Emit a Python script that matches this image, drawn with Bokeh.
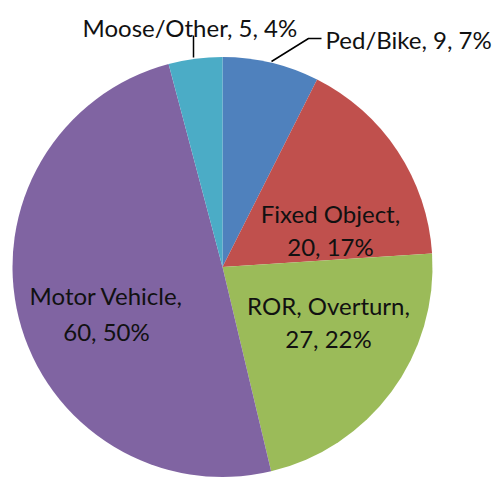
import numpy as np
from bokeh.plotting import figure
from bokeh.models import Range1d, ColumnDataSource
from bokeh.core.properties import value
from bokeh.embed import file_html
from bokeh.resources import INLINE

categories = ["Ped/Bike", "Fixed Object", "ROR, Overturn", "Motor Vehicle", "Moose/Other"]
counts = [9, 20, 27, 60, 5]
percents = ["7%", "17%", "22%", "50%", "4%"]
colors = ["#4F81BD", "#C0504D", "#9BBB59", "#8064A2", "#4BACC6"]

W, H = 496, 478
p = figure(width=W, height=H, output_backend="svg", toolbar_location=None,
           x_range=Range1d(0, W), y_range=Range1d(-H, 0),
           min_border=0)
p.axis.visible = False
p.grid.visible = False
p.outline_line_color = None
p.background_fill_color = "white"

cx, cy, r = 222, -266.5, 210
vals = np.array(counts, dtype=float)
frac = vals / vals.sum()
cum = np.concatenate([[0], np.cumsum(frac)])
start = np.pi / 2 - cum[:-1] * 2 * np.pi
end = np.pi / 2 - cum[1:] * 2 * np.pi
src = ColumnDataSource(dict(start=start, end=end, color=colors))
p.wedge(x=cx, y=cy, radius=r, start_angle="start", end_angle="end",
        direction="clock", fill_color="color", line_color=None, source=src)

font = value("Lato")
fs = "24px"

def label(lines, x, y0, gap=33, align="center"):
    for i, t in enumerate(lines):
        p.text(x=[x], y=[-(y0 + i * gap)], text=[t], text_font=font,
               text_font_size=fs, text_align=align, text_baseline="alphabetic",
               text_color="#111111")

lab = [f"{c}, {n}, {pc}" for c, n, pc in zip(categories, counts, percents)]
# outside labels
label([lab[4]], 82, 27, align="left")
label([lab[0]], 325, 39, align="left")
# inside labels
label([categories[1] + ",", f"{counts[1]}, {percents[1]}"], 330, 213)
label([categories[2] + ",", f"{counts[2]}, {percents[2]}"], 328, 305)
label([categories[3] + ",", f"{counts[3]}, {percents[3]}"], 106, 295, gap=36)

# leader lines
p.line(x=[193, 193], y=[-35, -57], line_color="black", line_width=1.5)
p.line(x=[271, 308, 321], y=[-61, -38, -38], line_color="black", line_width=1.5)

open("out.html", "w").write(file_html(p, INLINE))
